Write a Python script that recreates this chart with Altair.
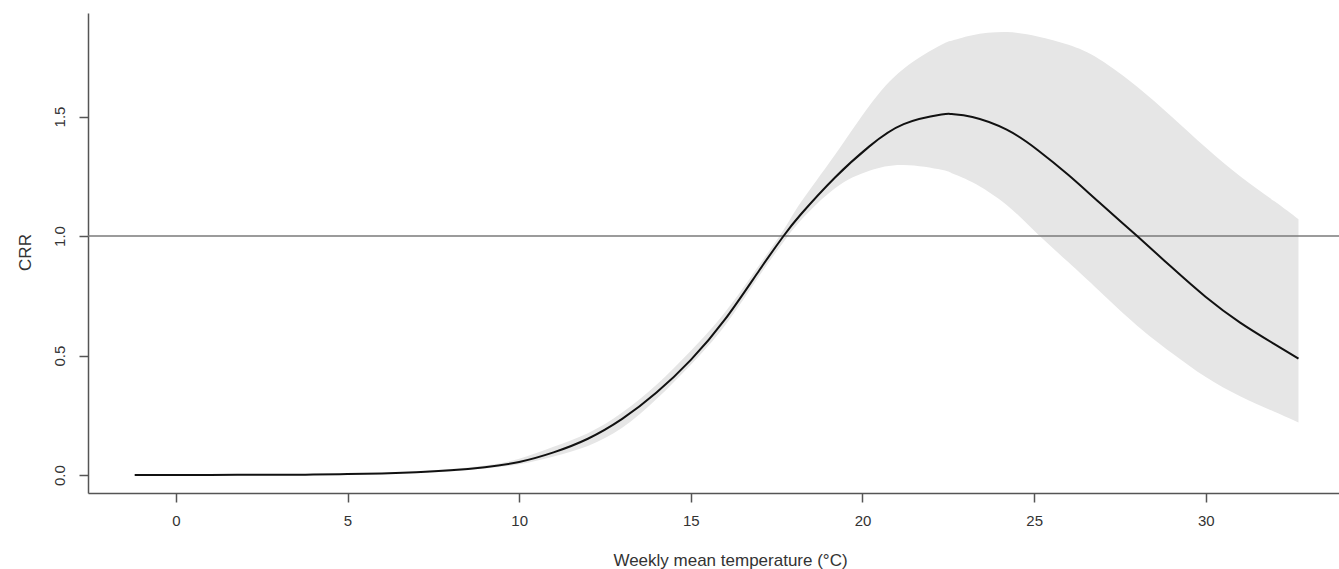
import altair as alt
import pandas as pd

# Temperature grid (°C) and values
temp = [-1.2, 0, 1, 2, 3, 4, 5, 6, 7, 8, 9, 10, 11, 12, 13, 14, 15, 16, 17, 17.7,
        18.2, 19.2, 20.2, 21.2, 22.3, 22.6, 23.2, 24.2, 25.1, 26, 26.9, 28, 29, 30, 31, 32, 32.7]
crr = [0.000, 0.000, 0.000, 0.001, 0.001, 0.002, 0.004, 0.007, 0.012, 0.020, 0.033,
       0.055, 0.095, 0.152, 0.235, 0.345, 0.482, 0.652, 0.858, 1.000,
       1.090, 1.245, 1.375, 1.468, 1.508, 1.510, 1.498, 1.445, 1.360, 1.255, 1.140,
       1.000, 0.870, 0.745, 0.638, 0.548, 0.487]
upper = [0.000, 0.000, 0.001, 0.001, 0.002, 0.003, 0.005, 0.009, 0.015, 0.025, 0.040,
         0.068, 0.118, 0.175, 0.262, 0.378, 0.520, 0.682, 0.880, 1.025,
         1.140, 1.340, 1.545, 1.700, 1.800, 1.817, 1.840, 1.853, 1.835, 1.800, 1.740,
         1.625, 1.500, 1.370, 1.250, 1.145, 1.070]
lower = [0.000, 0.000, 0.000, 0.000, 0.001, 0.001, 0.003, 0.005, 0.009, 0.015, 0.027,
         0.045, 0.078, 0.122, 0.198, 0.318, 0.462, 0.627, 0.835, 0.975,
         1.065, 1.200, 1.273, 1.297, 1.277, 1.263, 1.225, 1.130, 1.008, 0.890, 0.770,
         0.625, 0.512, 0.410, 0.330, 0.265, 0.220]

x_ticks = [0, 5, 10, 15, 20, 25, 30]
y_ticks = [0.0, 0.5, 1.0, 1.5]
ref_value = [1.0]

df = pd.DataFrame({"temp": temp, "crr": crr, "upper": upper, "lower": lower})
ref = pd.DataFrame({"ref": ref_value})

FONT = "Liberation Sans"
AX = "#555555"
TXT = "#333333"

xscale = alt.Scale(domain=[-2.56, 33.88], nice=False, zero=False)
yscale = alt.Scale(domain=[-0.075, 1.933], nice=False, zero=False)

xaxis = alt.Axis(values=x_ticks, title="Weekly mean temperature (°C)", grid=False,
                 domainColor=AX, domainWidth=1.5, tickColor=AX, tickWidth=1.5, tickSize=9,
                 labelPadding=11, labelFontSize=15, labelFont=FONT, labelColor=TXT,
                 titleFont=FONT, titleFontSize=17, titleFontWeight="normal", titleColor=TXT,
                 titleX=642, titleY=67, titleBaseline="middle", titleAnchor="start", titleAlign="center")
yaxis = alt.Axis(values=y_ticks, format=".1f", title="CRR", grid=False,
                 domainColor=AX, domainWidth=1.5, tickColor=AX, tickWidth=1.5, tickSize=9,
                 labelAngle=270, labelAlign="center", labelBaseline="bottom", labelPadding=12,
                 labelFontSize=15, labelFont=FONT, labelColor=TXT,
                 titleFont=FONT, titleFontSize=17, titleFontWeight="normal", titleColor=TXT,
                 titleAngle=270, titleX=-63, titleY=239, titleBaseline="middle", titleAlign="center",
                 titleAnchor="start")

band = alt.Chart(df).mark_area(color="#e6e6e6", opacity=1, interpolate="natural").encode(
    x=alt.X("temp:Q", scale=xscale, axis=xaxis),
    y=alt.Y("lower:Q", scale=yscale, axis=yaxis),
    y2="upper:Q",
)

rule = alt.Chart(ref).mark_rule(color="#7a7a7a", strokeWidth=1.6).encode(
    y=alt.Y("ref:Q", scale=yscale)
)

line = alt.Chart(df).mark_line(color="#111111", strokeWidth=2, interpolate="natural").encode(
    x=alt.X("temp:Q", scale=xscale),
    y=alt.Y("crr:Q", scale=yscale),
)

chart = alt.layer(band, rule, line).properties(
    width=1251, height=480,
    background="white",
    autosize=alt.AutoSizeParams(type="none"),
    padding={"left": 88, "top": 13, "right": 0, "bottom": 76},
).configure_view(stroke=None, strokeWidth=0)

chart.save("out.html", embed_options={"renderer": "svg", "actions": False})
